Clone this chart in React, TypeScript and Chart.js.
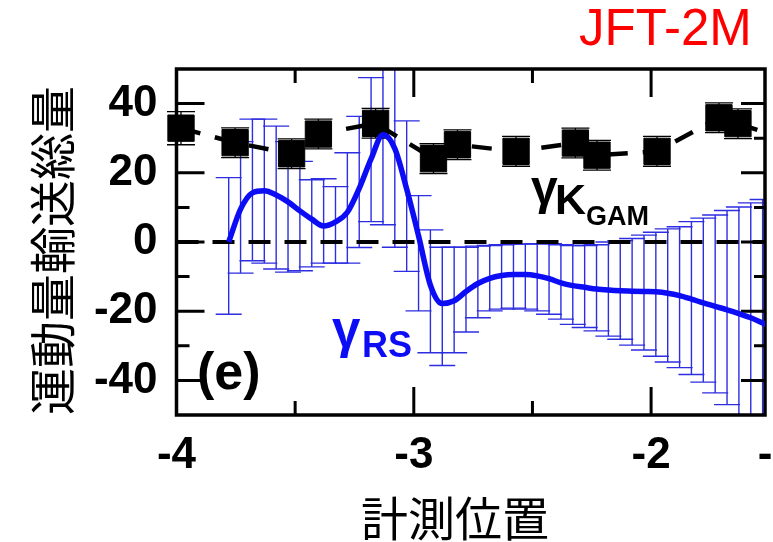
import React, { useEffect, useRef } from "react";
import { Chart, registerables } from "chart.js";

Chart.register(...registerables);

// ---- axis ranges & ticks ----
const X_MIN = -4;
const X_MAX = -1.52;
const Y_MIN = -50;
const Y_MAX = 50;
const xTickValues = [-4, -3, -2, X_MAX];
const xTickLabels = ["-4", "-3", "-2", "-"];
const yTickValues = [-40, -20, 0, 20, 40];
const yTickLabels = ["-40", "-20", "0", "20", "40"];
const xMajorMarks = [-3, -2];
const xMinorMarks = [-3.5, -2.5];
const yMajorMarks = [-40, -20, 0, 20, 40];
const yMinorMarks = [-30, -10, 10, 30];

// ---- γ_KGAM (black squares) ----
const kgamX = [-3.981, -3.753, -3.515, -3.402, -3.161, -2.917, -2.816, -2.569, -2.319, -2.228, -1.975, -1.714, -1.634, -1.45];
const kgamY = [32.9, 28.7, 25.5, 31.2, 34.3, 24.1, 28.1, 26.2, 28.6, 25.1, 26.2, 35.9, 34.2, 30.2];
const kgamErr = [4.8, 4.3, 4.3, 4.3, 4.3, 4.3, 4.3, 4.3, 4.3, 4.3, 4.3, 4.3, 4.3, null];

// ---- γ_RS (blue curve with error bars) ----
const rsX = [
  -3.78, -3.73, -3.68, -3.63, -3.58, -3.53, -3.48, -3.43, -3.38, -3.33,
  -3.28, -3.23, -3.18, -3.13, -3.08, -3.03, -2.98, -2.93, -2.88, -2.83,
  -2.78, -2.73, -2.68, -2.63, -2.58, -2.53, -2.48, -2.43, -2.38, -2.33,
  -2.28, -2.23, -2.18, -2.13, -2.08, -2.03, -1.98, -1.93, -1.88, -1.83,
  -1.78, -1.73, -1.68, -1.63, -1.58, -1.53, -1.5,
];
const rsY = [
  0, 9.5, 14.2, 14.8, 13.6, 11.6, 9.0, 6.6, 4.6, 5.8,
  8.6, 15.5, 24.0, 31.0, 27.0, 15.3, 1.8, -12.5, -17.8, -17.0,
  -14.3, -12.0, -10.5, -9.7, -9.4, -9.4, -9.8, -10.6, -11.8, -12.6,
  -13.1, -13.6, -13.9, -14.1, -14.2, -14.3, -14.4, -14.8, -15.5, -16.5,
  -17.6, -18.6, -19.6, -20.7, -21.9, -23.4, -24.3,
];
const rsHigh = [
  18.6, 29.0, 35.5, 35.5, 33.5, 29.0, 23.3, 18.0, 18.3, 16.0,
  25.8, 36.3, 47.5, 57.0, 56.0, 35.0, 13.4, 3.5, -1.5, -1.5,
  -1.5, -1.2, -1.0, -0.8, -0.6, -0.6, -0.5, -0.5, -0.8, -1.0,
  -1.0, -0.8, 0.0, 0.4, 1.0, 2.0, 2.8, 3.8, 4.4, 5.9,
  6.9, 7.8, 9.1, 10.1, 11.3, 12.3, null,
];
const rsLow = [
  -20.9, -9.0, -5.4, -6.1, -7.8, -8.7, -8.3, -7.2, -6.1, -6.1,
  -6.1, -1.6, 5.9, 5.0, -1.5, -8.5, -19.9, -32.0, -35.7, -32.0,
  -26.0, -21.9, -19.9, -19.4, -19.1, -19.4, -19.9, -20.9, -22.3, -23.8,
  -24.7, -25.7, -27.2, -28.1, -29.8, -31.2, -33.0, -34.7, -36.3, -38.3,
  -40.5, -43.6, -47.0, -51.0, -55.0, -58.0, null,
];

// zero reference line
const zeroX = [X_MIN, X_MAX];
const zeroY = [0, 0];

const BLUE = "rgb(12,12,245)";
const BAR_BLUE = "rgb(45,45,225)";
const TICK_FONT = { family: "'Liberation Sans', Arial, sans-serif", size: 44, weight: "bold" as const };

const decorPlugin = {
  id: "decor",
  beforeDatasetsDraw(chart: any) {
    const { ctx, chartArea: a, scales } = chart;
    const xs = scales.x;
    const ys = scales.y;
    // blue error bars (clipped to plot)
    ctx.save();
    ctx.beginPath();
    ctx.rect(a.left, a.top, a.right - a.left, a.bottom - a.top);
    ctx.clip();
    ctx.strokeStyle = BAR_BLUE;
    ctx.lineWidth = 1.4;
    const cap = 13;
    for (let i = 0; i < rsX.length; i++) {
      const hi = rsHigh[i];
      const lo = rsLow[i];
      if (hi == null || lo == null) continue;
      const px = xs.getPixelForValue(rsX[i]);
      const p1 = ys.getPixelForValue(hi);
      const p2 = ys.getPixelForValue(lo);
      ctx.beginPath();
      ctx.moveTo(px, p1);
      ctx.lineTo(px, p2);
      ctx.moveTo(px - cap, p1);
      ctx.lineTo(px + cap, p1);
      ctx.moveTo(px - cap, p2);
      ctx.lineTo(px + cap, p2);
      ctx.stroke();
    }
    ctx.restore();

    // black error bars
    ctx.save();
    ctx.beginPath();
    ctx.rect(a.left - 15, a.top, a.right - a.left + 15, a.bottom - a.top);
    ctx.clip();
    ctx.strokeStyle = "#000";
    ctx.lineWidth = 1.3;
    const capK = 14;
    for (let i = 0; i < kgamX.length; i++) {
      const e = kgamErr[i];
      if (e == null) continue;
      const px = xs.getPixelForValue(kgamX[i]);
      const p1 = ys.getPixelForValue(kgamY[i] + e);
      const p2 = ys.getPixelForValue(kgamY[i] - e);
      ctx.beginPath();
      ctx.moveTo(px, p1);
      ctx.lineTo(px, p2);
      ctx.moveTo(px - capK, p1);
      ctx.lineTo(px + capK, p1);
      ctx.moveTo(px - capK, p2);
      ctx.lineTo(px + capK, p2);
      ctx.stroke();
    }
    ctx.restore();

    // frame + inward ticks
    ctx.save();
    ctx.strokeStyle = "#000";
    ctx.lineWidth = 3.5;
    ctx.strokeRect(a.left, a.top, a.right - a.left, a.bottom - a.top);
    ctx.lineWidth = 3;
    ctx.beginPath();
    const yMark = (v: number, lenL: number, lenR: number) => {
      const py = ys.getPixelForValue(v);
      ctx.moveTo(a.left, py);
      ctx.lineTo(a.left + lenL, py);
      ctx.moveTo(a.right, py);
      ctx.lineTo(a.right - lenR, py);
    };
    yMajorMarks.forEach((v) => yMark(v, 28, 24));
    yMinorMarks.forEach((v) => yMark(v, 13, 11));
    const xMark = (v: number, len: number) => {
      const px = xs.getPixelForValue(v);
      ctx.moveTo(px, a.bottom);
      ctx.lineTo(px, a.bottom - len);
      ctx.moveTo(px, a.top);
      ctx.lineTo(px, a.top + len);
    };
    xMajorMarks.forEach((v) => xMark(v, 28));
    xMinorMarks.forEach((v) => xMark(v, 14));
    ctx.stroke();
    ctx.restore();
  },
  afterDraw(chart: any) {
    const { ctx } = chart;
    ctx.save();
    ctx.textBaseline = "alphabetic";
    ctx.textAlign = "left";
    // JFT-2M
    ctx.fillStyle = "#ff0000";
    ctx.font = "51px 'Liberation Sans', Arial, sans-serif";
    ctx.fillText("JFT-2M", 579, 45);
    // (e)
    ctx.fillStyle = "#000";
    ctx.font = "bold 52px 'Liberation Sans', Arial, sans-serif";
    ctx.fillText("(e)", 197, 389);
    // γ_KGAM
    ctx.font = "bold 48px 'Liberation Sans', Arial, sans-serif";
    ctx.fillText("γ", 531, 204);
    ctx.font = "bold 43px 'Liberation Sans', Arial, sans-serif";
    ctx.fillText("K", 555, 214);
    ctx.font = "bold 27px 'Liberation Sans', Arial, sans-serif";
    ctx.fillText("GAM", 586, 225);
    // γ_RS
    ctx.fillStyle = BLUE;
    ctx.font = "bold 51px 'Liberation Sans', Arial, sans-serif";
    ctx.fillText("γ", 332, 347);
    ctx.font = "bold 36px 'Liberation Sans', Arial, sans-serif";
    ctx.fillText("RS", 362, 357);
    // x-axis title
    ctx.fillStyle = "#000";
    ctx.font = "47px 'Noto Sans CJK JP', sans-serif";
    ctx.textAlign = "center";
    ctx.textBaseline = "middle";
    ctx.fillText("計測位置", 455, 518);
    ctx.restore();
  },
};

export default function App() {
  const ref = useRef<HTMLCanvasElement | null>(null);
  useEffect(() => {
    if (!ref.current) return;
    const chart = new Chart(ref.current, {
      type: "scatter",
      data: {
        datasets: [
          {
            label: "γRS",
            data: rsX.map((x, i) => ({ x, y: rsY[i] })),
            showLine: true,
            borderColor: BLUE,
            borderWidth: 5.5,
            pointRadius: 0,
            cubicInterpolationMode: "monotone",
            order: 1,
          },
          {
            label: "γKGAM",
            data: kgamX.map((x, i) => ({ x, y: kgamY[i] })),
            showLine: true,
            borderColor: "#000",
            borderWidth: 4.5,
            borderDash: [20, 15],
            pointStyle: "rect",
            pointRadius: kgamX.map((_, i) => (kgamErr[i] == null ? 0 : 18.6)),
            pointBackgroundColor: "#000",
            pointBorderColor: "#000",
            pointBorderWidth: 1,
            clip: { left: 15, top: 0, right: 0, bottom: 0 },
            order: 2,
          },
          {
            label: "zero",
            data: zeroX.map((x, i) => ({ x, y: zeroY[i] })),
            showLine: true,
            borderColor: "#000",
            borderWidth: 4,
            borderDash: [22, 14],
            pointRadius: 0,
            order: 3,
          },
        ],
      },
      options: {
        animation: false,
        responsive: false,
        devicePixelRatio: 1,
        layout: { autoPadding: false, padding: { top: 69, right: 8, left: 0, bottom: 0 } },
        plugins: { legend: { display: false }, tooltip: { enabled: false } },
        events: [],
        scales: {
          x: {
            type: "linear",
            min: X_MIN,
            max: X_MAX,
            grid: { display: false, drawTicks: false },
            border: { display: false },
            afterBuildTicks: (s: any) => {
              s.ticks = xTickValues.map((v) => ({ value: v }));
            },
            afterFit: (s: any) => {
              s.height = 127;
              s.paddingLeft = 0;
              s.paddingRight = 0;
            },
            ticks: {
              autoSkip: false,
              maxRotation: 0,
              padding: 14,
              color: "#000",
              font: TICK_FONT,
              callback: (v: any) => {
                const i = xTickValues.indexOf(Number(v));
                return i >= 0 ? xTickLabels[i] : "";
              },
            },
          },
          y: {
            type: "linear",
            min: Y_MIN,
            max: Y_MAX,
            grid: { display: false, drawTicks: false },
            border: { display: false },
            afterBuildTicks: (s: any) => {
              s.ticks = yTickValues.map((v) => ({ value: v }));
            },
            afterFit: (s: any) => {
              s.width = 176.5;
              s.paddingTop = 0;
              s.paddingBottom = 0;
            },
            ticks: {
              autoSkip: false,
              padding: 19,
              color: "#000",
              font: TICK_FONT,
              callback: (v: any) => {
                const i = yTickValues.indexOf(Number(v));
                return i >= 0 ? yTickLabels[i] : "";
              },
            },
            title: {
              display: true,
              text: "運動量輸送総量",
              align: "start",
              color: "#000",
              font: { family: "'Noto Sans CJK JP', sans-serif", size: 47, weight: "normal" },
              padding: { top: 24, bottom: 0 },
            },
          },
        },
      },
      plugins: [decorPlugin],
    } as any);
    return () => chart.destroy();
  }, []);
  return (
    <div style={{ position: "fixed", left: 0, top: 0, width: 773, height: 542, background: "#fff" }}>
      <canvas ref={ref} width={773} height={542} style={{ width: 773, height: 542, display: "block" }} />
    </div>
  );
}
